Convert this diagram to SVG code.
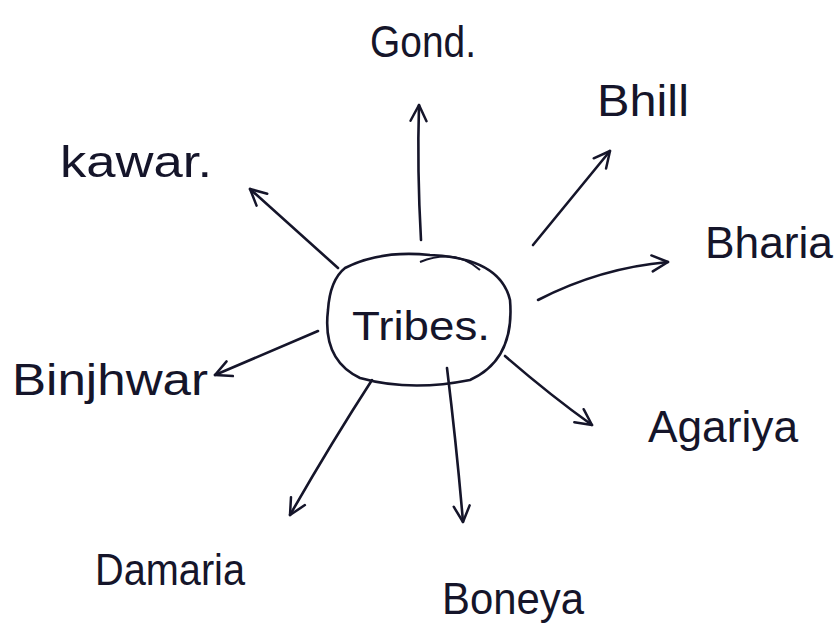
<svg xmlns="http://www.w3.org/2000/svg" width="838" height="642" viewBox="0 0 838 642">
<defs>
<marker id="ah" viewBox="0 0 20 20" refX="18" refY="10" markerWidth="20" markerHeight="20" markerUnits="userSpaceOnUse" orient="auto">
<path d="M2,2 L18,10 L2,18" fill="none" stroke="#15152a" stroke-width="2.5" stroke-linecap="round" stroke-linejoin="round"/>
</marker>
<style>
.lbl{font-family:"Liberation Sans","DejaVu Sans",sans-serif;font-size:44px;fill:#15152a}
.c{fill:none;stroke:#15152a;stroke-width:2.6;stroke-linecap:round;marker-end:url(#ah)}
</style>
</defs>
<rect width="838" height="642" fill="#ffffff"/>
<g id="connectors">
<path class="c" d="M421,240 Q417,170 419,105"/>
<path class="c" d="M533,245 L610,151"/>
<path class="c" d="M338,268 L250,189"/>
<path class="c" d="M538,300 Q600,268 668,262"/>
<path class="c" d="M318,331 L215,375"/>
<path class="c" d="M505,356 Q550,395 592,425"/>
<path class="c" d="M372,380 Q330,445 290,515"/>
<path class="c" d="M447,368 Q457,450 463,522"/>
</g>
<g id="tribes">
<path d="M345,268 Q380,250 430,255 Q500,258 510,300 Q515,360 470,380 Q410,392 360,378 Q322,360 328,310 Q330,280 345,268 Z" fill="none" stroke="#15152a" stroke-width="2.6"/>
<path d="M420,262 Q455,248 480,270" fill="none" stroke="#15152a" stroke-width="2"/>
<text class="lbl" x="352" y="340" textLength="138" lengthAdjust="spacingAndGlyphs" style="font-size:40px">Tribes.</text>
</g>
<g id="gond"><text class="lbl" x="370" y="57" textLength="106" lengthAdjust="spacingAndGlyphs">Gond.</text></g>
<g id="bhill"><text class="lbl" x="597" y="116" textLength="92" lengthAdjust="spacingAndGlyphs">Bhill</text></g>
<g id="kawar"><text class="lbl" x="60" y="177" textLength="152" lengthAdjust="spacingAndGlyphs">kawar.</text></g>
<g id="bharia"><text class="lbl" x="705" y="258" textLength="128" lengthAdjust="spacingAndGlyphs">Bharia</text></g>
<g id="binjhwar"><text class="lbl" x="12" y="395" textLength="196" lengthAdjust="spacingAndGlyphs">Binjhwar</text></g>
<g id="agariya"><text class="lbl" x="648" y="442" textLength="150" lengthAdjust="spacingAndGlyphs">Agariya</text></g>
<g id="damaria"><text class="lbl" x="95" y="585" textLength="150" lengthAdjust="spacingAndGlyphs">Damaria</text></g>
<g id="boneya"><text class="lbl" x="442" y="614" textLength="142" lengthAdjust="spacingAndGlyphs">Boneya</text></g>
</svg>
